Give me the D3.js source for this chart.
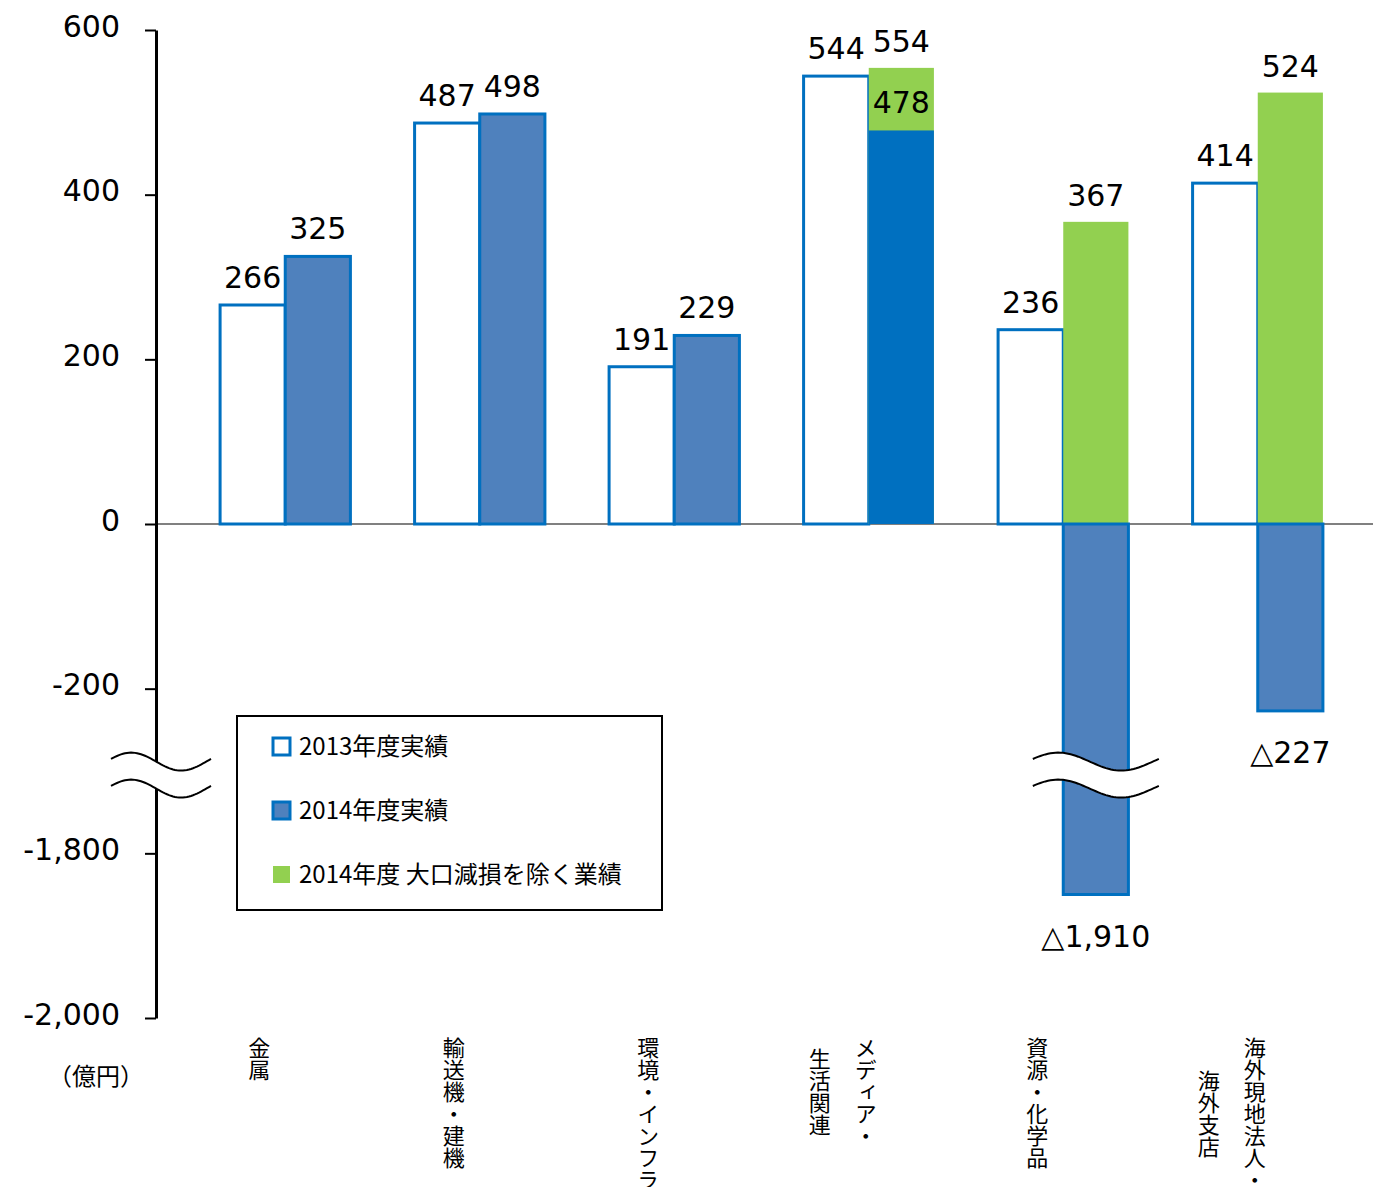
<!DOCTYPE html>
<html>
<head>
<meta charset="utf-8">
<script src="https://cdn.jsdelivr.net/npm/d3@7"></script>
<style>
  body { margin: 0; background: #fff; }
  svg { display: block; }
</style>
</head>
<body>
<div id="chart"></div>
<script>
/* --- データ --- */
const categories = [["金属"], ["輸送機・建機"], ["環境・インフラ"], ["メディア・", "生活関連"], ["資源・化学品"], ["海外現地法人・", "海外支店"]];
const values2013 = [266, 487, 191, 544, 236, 414];
const values2014 = [325, 498, 229, 478, -1910, -227];
const valuesExImpairment = [null, null, null, 554, 367, 524];   // 2014年度 大口減損を除く業績
// 軸の切れ目より下に伸びる棒は、元の図と同じく短縮した値で描く
const drawn2014 = [325, 498, 229, 478, -450, -227];
const tickValues = [600, 400, 200, 0, -200, -400, -600];
const tickLabels = ["600", "400", "200", "0", "-200", "-1,800", "-2,000"];
const legendLabels = ["2013年度実績", "2014年度実績", "2014年度 大口減損を除く業績"];
const unitLabel = "（億円）";

/* --- ビューポート --- */
const width = 1373, height = 1187;
const axisX = 156;
const numFont = "'DejaVu Sans', Verdana, sans-serif";
const jpFont = "'Noto Sans CJK JP', sans-serif";
const blue = "#0070C0", midBlue = "#4F81BD", green = "#92D050";

const svg = d3.select("#chart").append("svg")
    .attr("width", width)
    .attr("height", height)
    .attr("viewBox", "0 0 " + width + " " + height);

/* --- スケール --- */
const y = d3.scaleLinear().domain([-600, 600]).range([1018, 30]);

const x0 = d3.scaleBand()
    .domain(d3.range(categories.length))
    .range([188, 1355])
    .paddingInner(0.33)
    .paddingOuter(0.165);

const x1 = d3.scaleBand()
    .domain(["2013", "2014"])
    .range([0, x0.bandwidth()]);

const rows = categories.map(function(c, i) {
    return {i: i, name: c, v13: values2013[i], v14: values2014[i], d14: drawn2014[i], ex: valuesExImpairment[i]};
});

/* --- ゼロ線 --- */
svg.append("line")
    .attr("x1", axisX).attr("x2", width)
    .attr("y1", y(0)).attr("y2", y(0))
    .attr("stroke", "#808080")
    .attr("stroke-width", 2);

/* --- 棒 --- */
const groups = svg.append("g").selectAll("g")
    .data(rows).enter().append("g")
    .attr("transform", function(d) { return "translate(" + x0(d.i) + ",0)"; });

groups.append("rect")
    .attr("x", x1("2013"))
    .attr("width", x1.bandwidth())
    .attr("y", function(d) { return y(Math.max(d.v13, 0)); })
    .attr("height", function(d) { return Math.abs(y(d.v13) - y(0)); })
    .attr("fill", "#fff")
    .attr("stroke", blue)
    .attr("stroke-width", 3);

groups.filter(function(d) { return d.ex != null; }).append("rect")
    .attr("x", x1("2014"))
    .attr("width", x1.bandwidth())
    .attr("y", function(d) { return y(d.ex); })
    .attr("height", function(d) { return y(0) - y(d.ex); })
    .attr("fill", green);

groups.append("rect")
    .attr("x", x1("2014"))
    .attr("width", x1.bandwidth())
    .attr("y", function(d) { return y(Math.max(d.d14, 0)); })
    .attr("height", function(d) { return Math.abs(y(d.d14) - y(0)); })
    .attr("fill", function(d) { return (d.ex != null && d.v14 > 0) ? blue : midBlue; })
    .attr("stroke", function(d) { return (d.ex != null && d.v14 > 0) ? "none" : blue; })
    .attr("stroke-width", 3);

/* --- 数値ラベル --- */
const fmt = d3.format(",");
function valueText(v) { return v < 0 ? "△" + fmt(-v) : fmt(v); }

const labelStyle = function(sel) {
    sel.attr("text-anchor", "middle")
        .attr("font-family", numFont)
        .attr("font-size", 30)
        .attr("fill", "#000");
};

groups.append("text")
    .call(labelStyle)
    .attr("x", x1("2013") + x1.bandwidth() / 2)
    .attr("y", function(d) { return y(d.v13) - 17; })
    .text(function(d) { return valueText(d.v13); });

groups.append("text")
    .call(labelStyle)
    .attr("x", x1("2014") + x1.bandwidth() / 2)
    .attr("y", function(d) { return d.d14 < 0 ? y(d.d14) + 52 : y(d.d14) - 17; })
    .text(function(d) { return valueText(d.v14); });

groups.filter(function(d) { return d.ex != null; }).append("text")
    .call(labelStyle)
    .attr("x", x1("2014") + x1.bandwidth() / 2)
    .attr("y", function(d) { return y(d.ex) - 16; })
    .text(function(d) { return valueText(d.ex); });

/* --- 軸 --- */
const yAxis = d3.axisLeft(y)
    .tickValues(tickValues)
    .tickFormat(function(d, i) { return tickLabels[i]; })
    .tickSize(11)
    .tickSizeOuter(0)
    .tickPadding(25);

const axisG = svg.append("g")
    .attr("transform", "translate(" + axisX + ",0)")
    .call(yAxis);

axisG.select(".domain").attr("stroke", "#000").attr("stroke-width", 3);
axisG.selectAll(".tick line").attr("stroke", "#000").attr("stroke-width", 2);
axisG.selectAll(".tick text")
    .attr("font-family", numFont)
    .attr("font-size", 30)
    .attr("fill", "#000")
    .attr("dy", "0.2em");

/* --- 軸の切れ目 --- */
const breakValue = -305;
function drawBreak(cx, w) {
    const cy = y(breakValue);
    const amp = 9, gap = 27;
    const ts = d3.range(0, 1.001, 0.02);
    const wave = function(off) {
        return ts.map(function(t) { return [cx - w / 2 + t * w, cy + off - amp * Math.sin(2 * Math.PI * t + 0.3)]; });
    };
    const top = wave(-gap / 2), bottom = wave(gap / 2);
    const g = svg.append("g");
    g.append("path")
        .attr("d", d3.line()(top.concat(bottom.slice().reverse())) + "Z")
        .attr("fill", "#fff");
    [top, bottom].forEach(function(pts) {
        g.append("path")
            .attr("d", d3.line()(pts))
            .attr("fill", "none")
            .attr("stroke", "#000")
            .attr("stroke-width", 2);
    });
}
drawBreak(axisX + 5, 100);
drawBreak(x0(4) + x1("2014") + x1.bandwidth() / 2, 126);

/* --- 凡例 --- */
const legend = svg.append("g").attr("transform", "translate(237,716)");
legend.append("rect")
    .attr("width", 425).attr("height", 194)
    .attr("fill", "#fff")
    .attr("stroke", "#000")
    .attr("stroke-width", 2);

const legendFill = ["#fff", midBlue, green];
const legendStroke = [blue, blue, "none"];
const items = legend.selectAll(".item")
    .data(legendLabels).enter().append("g")
    .attr("class", "item")
    .attr("transform", function(d, i) { return "translate(0," + (30 + i * 64) + ")"; });

items.append("rect")
    .attr("x", 36).attr("y", -8)
    .attr("width", 17).attr("height", 17)
    .attr("fill", function(d, i) { return legendFill[i]; })
    .attr("stroke", function(d, i) { return legendStroke[i]; })
    .attr("stroke-width", 3);

items.append("text")
    .attr("x", 62)
    .attr("dy", "0.36em")
    .attr("font-family", jpFont)
    .attr("font-size", 24)
    .attr("fill", "#000")
    .text(function(d) { return d; });

/* --- 項目名（縦書き） --- */
const catFont = 22, lineGap = 46, catTop = 1037;
groups.each(function(d) {
    const g = d3.select(this);
    const cx = x0.bandwidth() / 2 - 26;
    const n = d.name.length;
    const maxLen = d3.max(d.name, function(s) { return s.length; });
    d.name.forEach(function(line, k) {
        g.append("text")
            .attr("x", cx + ((n - 1) / 2 - k) * lineGap)
            .attr("y", catTop + maxLen * catFont / 2)
            .attr("text-anchor", "middle")
            .style("writing-mode", "vertical-rl")
            .attr("font-family", jpFont)
            .attr("font-size", catFont)
            .attr("fill", "#000")
            .text(line);
    });
});

svg.append("text")
    .attr("x", 96).attr("y", 1076)
    .attr("dy", "0.36em")
    .attr("text-anchor", "middle")
    .attr("font-family", jpFont)
    .attr("font-size", 24)
    .attr("fill", "#000")
    .text(unitLabel);
</script>
</body>
</html>
